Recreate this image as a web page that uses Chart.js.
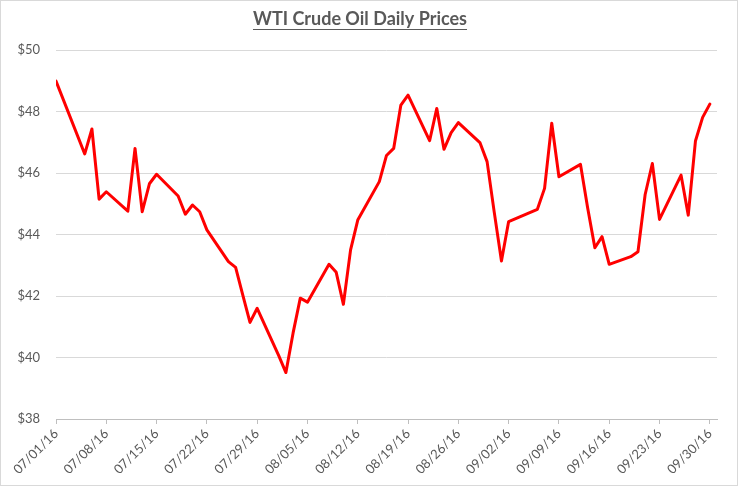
<!DOCTYPE html>
<html>
<head>
<meta charset="utf-8">
<script src="https://cdn.jsdelivr.net/npm/chart.js@4"></script>
<style>
  html, body { margin: 0; padding: 0; background: #fff; }
  #wrap { width: 738px; height: 486px; }
</style>
</head>
<body>
<div id="wrap"><canvas id="oilChart" width="738" height="486"></canvas></div>
<script>
// trading days, Jul - Sep 2016
const dates = [
  "07/01/16","07/05/16","07/06/16","07/07/16","07/08/16","07/11/16","07/12/16","07/13/16","07/14/16","07/15/16",
  "07/18/16","07/19/16","07/20/16","07/21/16","07/22/16","07/25/16","07/26/16","07/27/16","07/28/16","07/29/16",
  "08/01/16","08/02/16","08/03/16","08/04/16","08/05/16","08/08/16","08/09/16","08/10/16","08/11/16","08/12/16",
  "08/15/16","08/16/16","08/17/16","08/18/16","08/19/16","08/22/16","08/23/16","08/24/16","08/25/16","08/26/16",
  "08/29/16","08/30/16","08/31/16",
  "09/01/16","09/02/16","09/06/16","09/07/16","09/08/16","09/09/16","09/12/16","09/13/16","09/14/16","09/15/16",
  "09/16/16","09/19/16","09/20/16","09/21/16","09/22/16","09/23/16","09/26/16","09/27/16","09/28/16","09/29/16",
  "09/30/16"
];
const prices = [
  48.99, 46.62, 47.43, 45.15, 45.39, 44.76, 46.80, 44.74, 45.65, 45.96,
  45.25, 44.66, 44.96, 44.74, 44.15, 43.12, 42.93, 42.03, 41.14, 41.60,
  40.06, 39.51, 40.80, 41.93, 41.80, 43.03, 42.77, 41.73, 43.50, 44.47,
  45.72, 46.57, 46.80, 48.21, 48.53, 47.05, 48.10, 46.77, 47.31, 47.64,
  46.99, 46.37, 44.72,
  43.14, 44.42, 44.82, 45.50, 47.62, 45.88, 46.28, 44.86, 43.57, 43.93,
  43.03, 43.28, 43.44, 45.30, 46.31, 44.49, 45.93, 44.63, 47.04, 47.81,
  48.24
];
const yTicks = [38, 40, 42, 44, 46, 48, 50];
const tickEveryDays = 7;

const DAY = 24 * 60 * 60 * 1000;
function parseDate(s) {
  const [m, d, y] = s.split("/").map(Number);
  return new Date(2000 + y, m - 1, d);
}
const start = parseDate(dates[0]);
const dayIndex = s => Math.round((parseDate(s) - start) / DAY);
function fmtDay(n) {
  const d = new Date(start.getTime() + n * DAY);
  const pad = v => String(v).padStart(2, "0");
  return pad(d.getMonth() + 1) + "/" + pad(d.getDate()) + "/" + String(d.getFullYear()).slice(2);
}

const points = dates.map((s, i) => ({ x: dayIndex(s), y: prices[i] }));
const lastDay = dayIndex(dates[dates.length - 1]);

const FONT = "Lato, 'Open Sans', sans-serif";
const GREY_TXT = "#595959";

// white background, outer border and title underline
const chrome = {
  id: "chrome",
  beforeDraw(chart) {
    const ctx = chart.ctx;
    ctx.save();
    ctx.fillStyle = "#fff";
    ctx.fillRect(0, 0, chart.width, chart.height);
    ctx.strokeStyle = "#d9d9d9";
    ctx.lineWidth = 1;
    ctx.strokeRect(0.5, 0.5, chart.width - 1, chart.height - 1);
    ctx.restore();
  },
  afterDraw(chart) {
    const tb = chart.titleBlock;
    if (!tb) return;
    const ctx = chart.ctx;
    const opts = chart.options.plugins.title;
    ctx.save();
    ctx.font = "bold " + opts.font.size + "px " + FONT;
    const w = ctx.measureText(opts.text).width;
    const cx = (tb.left + tb.right) / 2;
    const y = tb.top + opts.padding.top + opts.font.size * 1.2 / 2 + opts.font.size * 0.55;
    ctx.strokeStyle = GREY_TXT;
    ctx.lineWidth = 1.2;
    ctx.beginPath();
    ctx.moveTo(cx - w / 2, Math.round(y) + 0.5);
    ctx.lineTo(cx + w / 2, Math.round(y) + 0.5);
    ctx.stroke();
    ctx.restore();
  }
};

new Chart(document.getElementById("oilChart"), {
  type: "line",
  data: {
    datasets: [{
      label: "WTI",
      data: points,
      borderColor: "#ff0000",
      borderWidth: 3,
      borderJoinStyle: "round",
      borderCapStyle: "round",
      pointRadius: 0,
      tension: 0,
      fill: false
    }]
  },
  options: {
    responsive: false,
    animation: false,
    layout: { padding: { left: 3, right: 21, top: 4, bottom: 4 } },
    plugins: {
      legend: { display: false },
      tooltip: { enabled: false },
      title: {
        display: true,
        text: "WTI Crude Oil Daily Prices",
        color: GREY_TXT,
        font: { family: FONT, size: 18, weight: "bold" },
        padding: { top: 4, bottom: 20.4 }
      }
    },
    scales: {
      x: {
        type: "linear",
        min: 0,
        max: lastDay + 1,
        afterBuildTicks: axis => {
          axis.ticks = [];
          for (let v = 0; v <= lastDay; v += tickEveryDays) axis.ticks.push({ value: v });
        },
        afterFit: axis => { axis.height = 486 - 4 - 419; },
        grid: { drawOnChartArea: false, drawTicks: true, tickLength: 5, color: "#bfbfbf" },
        border: { display: true, color: "#bfbfbf" },
        ticks: {
          autoSkip: false,
          maxRotation: 45,
          minRotation: 45,
          padding: 2,
          color: GREY_TXT,
          font: { family: FONT, size: 13 },
          callback: v => fmtDay(v)
        }
      },
      y: {
        min: yTicks[0],
        max: yTicks[yTicks.length - 1],
        afterBuildTicks: axis => { axis.ticks = yTicks.map(v => ({ value: v })); },
        afterFit: axis => { axis.width = 53; },
        grid: { color: "#d9d9d9", drawTicks: false },
        border: { display: false },
        ticks: {
          padding: 16,
          color: GREY_TXT,
          font: { family: FONT, size: 13 },
          callback: v => "$" + v
        }
      }
    }
  },
  plugins: [chrome]
});
</script>
</body>
</html>
